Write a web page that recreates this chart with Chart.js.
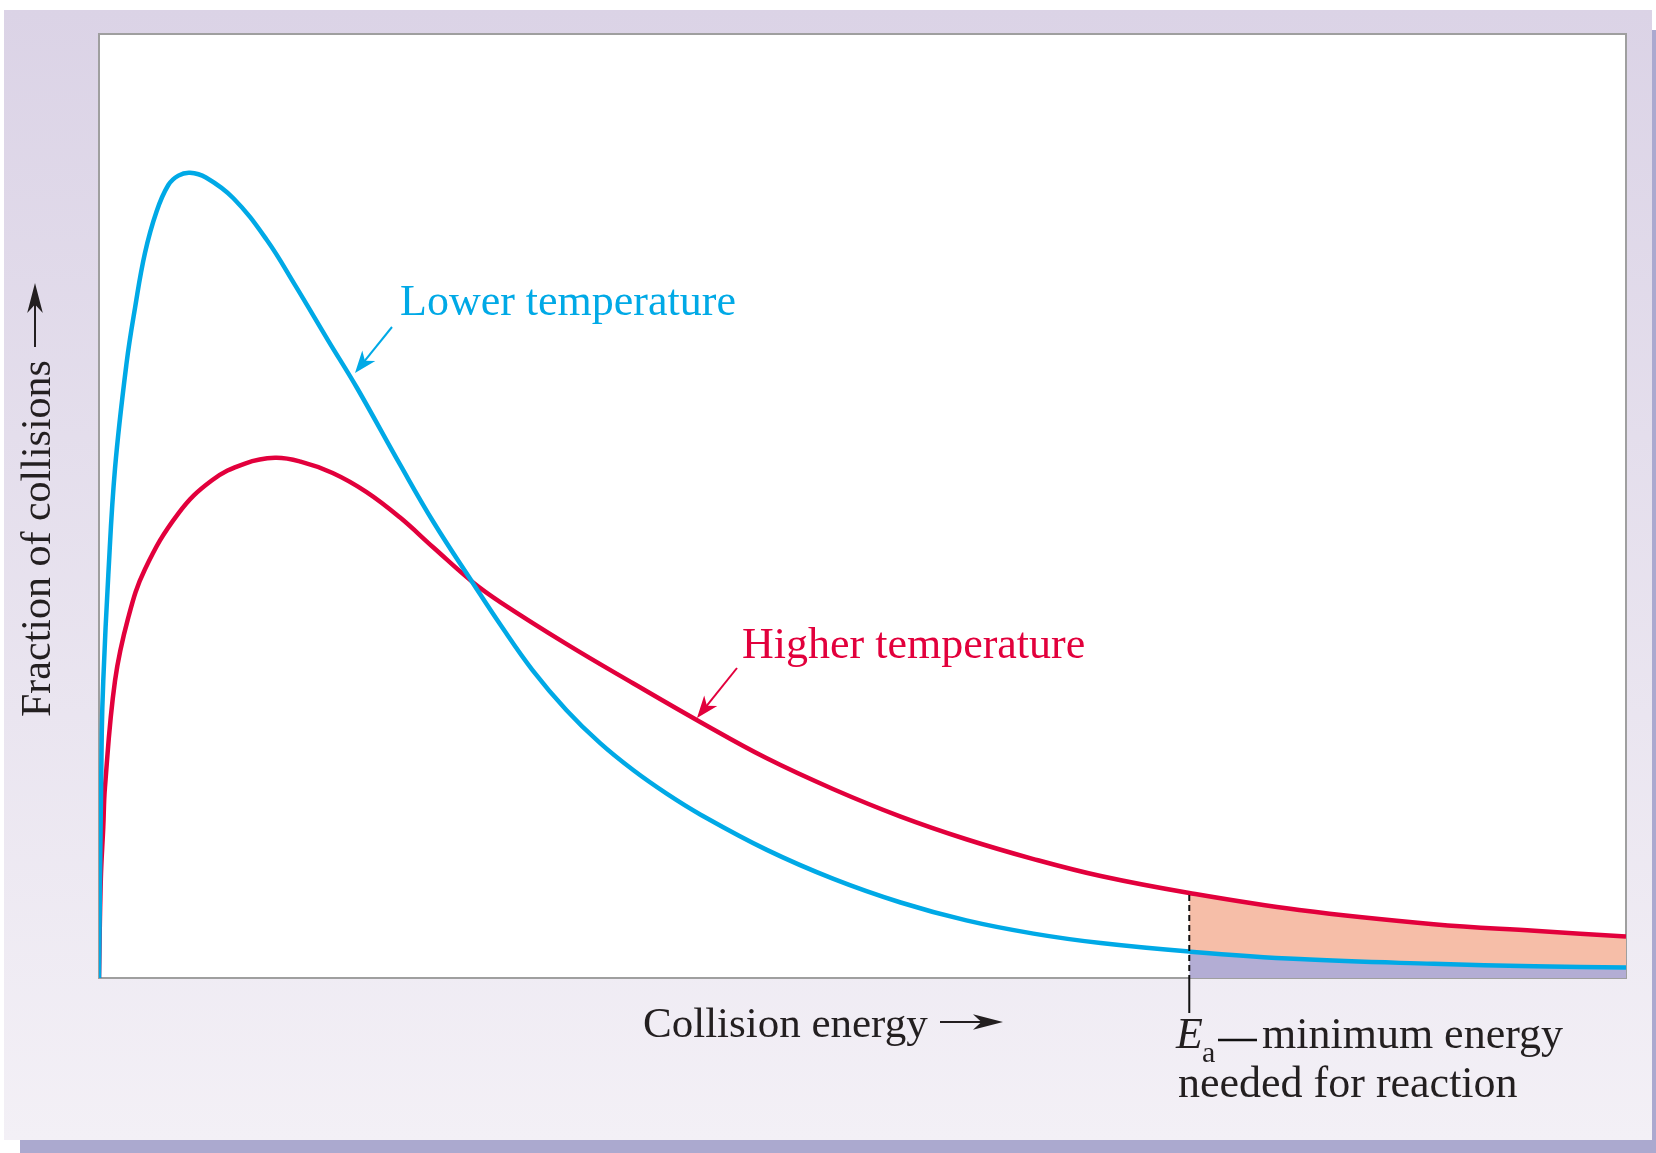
<!DOCTYPE html>
<html>
<head>
<meta charset="utf-8">
<title>Collision energy distribution</title>
<script src="https://cdn.jsdelivr.net/npm/chart.js@4"></script>
<style>
    html, body { margin: 0; padding: 0; background: #fff; }
    #wrap { position: relative; width: 1656px; height: 1153px; overflow: hidden; }
    #panel { position: absolute; left: 4px; top: 10px; width: 1648px; height: 1130px;
             background: linear-gradient(#dbd3e6, #f3f0f6); }
    #shadowR { position: absolute; left: 1652px; top: 30px; width: 4px; height: 1123px; background: #aba9cf; }
    #shadowB { position: absolute; left: 20px; top: 1140px; width: 1636px; height: 13px; background: #aba9cf; }
    canvas { position: absolute; left: 0; top: 0; }
</style>
</head>
<body>
<div id="wrap">
    <div id="panel"></div>
    <div id="shadowR"></div>
    <div id="shadowB"></div>
    <canvas id="energyChart" width="1656" height="1153"></canvas>
</div>
<script>
// Lower temperature curve
const lowEnergy = [0, 0.018, 0.028, 0.061, 0.105, 0.181, 0.236, 0.301, 0.377, 0.454, 0.52, 0.596, 0.7, 0.88,
    1.098, 1.284, 1.502, 1.69, 1.971, 2.19, 2.45, 2.63, 2.84, 3.06, 3.28, 3.5, 3.72, 3.94, 4.37, 4.81,
    5.25, 5.68, 6.12, 6.56, 7.14, 7.86, 8.74, 9.4, 10];
const lowFraction = [0, 25.8, 31.5, 42.7, 54, 65.2, 71.0, 76.8, 81.2, 84.0, 85.0, 85.3, 84.8, 82.6,
    78.2, 73.4, 67.5, 62.5, 54.4, 48.3, 41.8, 37.4, 32.6, 28.4, 24.9, 22.0, 19.5, 17.3, 13.6, 10.5,
    8.0, 6.1, 4.7, 3.7, 2.8, 2.0, 1.5, 1.25, 1.1];

// Higher temperature curve
const highEnergy = [0, 0.012, 0.028, 0.039, 0.105, 0.192, 0.301, 0.519, 0.738, 0.956, 1.153, 1.32, 1.53, 1.75,
    1.97, 2.19, 2.45, 2.63, 3.06, 3.5, 3.94, 4.37, 4.81, 5.25, 5.68, 6.12, 6.56, 7.14, 7.86, 8.74, 9.4, 10];
const highFraction = [0, 10.5, 16, 20.2, 31.5, 38.2, 43.3, 49.2, 52.7, 54.5, 55.1, 54.7, 53.5, 51.5,
    48.8, 45.6, 41.9, 39.8, 35.4, 31.2, 27.1, 23.3, 20.0, 17.1, 14.7, 12.6, 10.8, 9.0, 7.2, 5.7, 5.0, 4.4];

// Minimum energy needed for reaction
const activationEnergy = 7.14;

const toPoints = (xs, ys) => xs.map((x, i) => ({ x: x, y: ys[i] }));
const tailPoints = (xs, ys) => toPoints(xs, ys).filter(p => p.x >= activationEnergy);

const textColor = '#231f20';
const blue = '#00a9e6';
const red = '#e2003c';
const serif = "'Liberation Serif', 'Times New Roman', serif";

function arrow(ctx, x1, y1, x2, y2, color, head, spread) {
    const ang = Math.atan2(y2 - y1, x2 - x1);
    ctx.save();
    ctx.strokeStyle = color;
    ctx.fillStyle = color;
    ctx.lineWidth = 2;
    ctx.beginPath();
    ctx.moveTo(x1, y1);
    ctx.lineTo(x2 - Math.cos(ang) * head * 0.6, y2 - Math.sin(ang) * head * 0.6);
    ctx.stroke();
    ctx.translate(x2, y2);
    ctx.rotate(ang);
    ctx.beginPath();
    ctx.moveTo(0, 0);
    ctx.lineTo(-head, -head * spread);
    ctx.lineTo(-head * 0.72, 0);
    ctx.lineTo(-head, head * spread);
    ctx.closePath();
    ctx.fill();
    ctx.restore();
}

const decorPlugin = {
    id: 'decor',
    beforeDatasetsDraw(chart) {
        const { ctx, chartArea: a } = chart;
        ctx.save();
        ctx.fillStyle = '#ffffff';
        ctx.fillRect(a.left, a.top, a.right - a.left, a.bottom - a.top);
        ctx.strokeStyle = '#9f9f9f';
        ctx.lineWidth = 2;
        ctx.strokeRect(a.left, a.top, a.right - a.left, a.bottom - a.top);
        ctx.restore();
    },
    afterDatasetsDraw(chart) {
        const { ctx, chartArea: a, scales } = chart;
        const ex = scales.x.getPixelForValue(activationEnergy);
        const ey = scales.y.getPixelForValue(highFraction[highEnergy.indexOf(activationEnergy)]);

        ctx.save();
        // Ea marker
        ctx.strokeStyle = '#111';
        ctx.lineWidth = 2;
        ctx.setLineDash([6, 4]);
        ctx.beginPath();
        ctx.moveTo(ex, ey + 2);
        ctx.lineTo(ex, a.bottom);
        ctx.stroke();
        ctx.setLineDash([]);
        ctx.beginPath();
        ctx.moveTo(ex, a.bottom);
        ctx.lineTo(ex, a.bottom + 35);
        ctx.stroke();

        ctx.textBaseline = 'alphabetic';
        ctx.textAlign = 'left';

        // curve labels
        ctx.font = '44px ' + serif;
        ctx.fillStyle = blue;
        ctx.fillText('Lower temperature', 400, 315);
        arrow(ctx, 392, 327, 355, 373, blue, 22, 0.38);
        ctx.fillStyle = red;
        ctx.fillText('Higher temperature', 742, 658);
        arrow(ctx, 737, 668, 697, 718, red, 22, 0.38);

        // axis labels
        ctx.fillStyle = textColor;
        ctx.font = '43px ' + serif;
        ctx.fillText('Collision energy', 643, 1037);
        arrow(ctx, 940, 1022, 1003, 1022, textColor, 30, 0.26);

        ctx.save();
        ctx.font = '42px ' + serif;
        ctx.translate(50, 717);
        ctx.rotate(-Math.PI / 2);
        ctx.fillText('Fraction of collisions', 0, 0);
        ctx.restore();
        arrow(ctx, 35, 347, 35, 283, textColor, 30, 0.26);

        // Ea caption
        ctx.font = 'italic 44px ' + serif;
        ctx.fillText('E', 1176, 1048);
        ctx.font = '30px ' + serif;
        ctx.fillText('a', 1202, 1062);
        ctx.lineWidth = 2.5;
        ctx.beginPath();
        ctx.moveTo(1218, 1040);
        ctx.lineTo(1257, 1040);
        ctx.stroke();
        ctx.font = '44px ' + serif;
        ctx.fillText('minimum energy', 1262, 1048);
        ctx.fillText('needed for reaction', 1178, 1097);
        ctx.restore();
    }
};

new Chart(document.getElementById('energyChart').getContext('2d'), {
    type: 'line',
    data: {
        datasets: [
            {
                label: 'Low tail',
                data: tailPoints(lowEnergy, lowFraction),
                borderColor: 'rgba(0,0,0,0)',
                backgroundColor: '#b3add4',
                fill: 'origin',
                pointRadius: 0,
                tension: 0.4,
                order: 3
            },
            {
                label: 'High tail',
                data: tailPoints(highEnergy, highFraction),
                borderColor: 'rgba(0,0,0,0)',
                backgroundColor: '#f6bea8',
                fill: '-1',
                pointRadius: 0,
                tension: 0.4,
                order: 2
            },
            {
                label: 'Higher temperature',
                data: toPoints(highEnergy, highFraction),
                borderColor: red,
                borderWidth: 4.5,
                pointRadius: 0,
                fill: false,
                tension: 0.4,
                order: 1
            },
            {
                label: 'Lower temperature',
                data: toPoints(lowEnergy, lowFraction),
                borderColor: blue,
                borderWidth: 4.5,
                pointRadius: 0,
                fill: false,
                tension: 0.4,
                order: 0
            }
        ]
    },
    options: {
        responsive: false,
        animation: false,
        layout: {
            padding: { left: 99, top: 34, right: 30, bottom: 175 }
        },
        scales: {
            x: { type: 'linear', min: 0, max: 10, display: false },
            y: { min: 0, max: 100, display: false }
        },
        plugins: {
            legend: { display: false },
            tooltip: { enabled: false }
        }
    },
    plugins: [decorPlugin]
});
</script>
</body>
</html>
